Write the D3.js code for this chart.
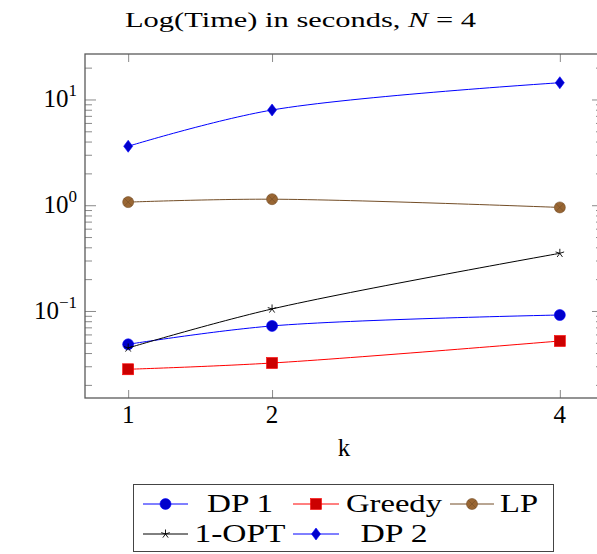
<!DOCTYPE html>
<html>
<head>
<meta charset="utf-8">
<script src="https://cdn.jsdelivr.net/npm/d3@7"></script>
<style>
  body { margin: 0; background: #fff; }
  text { font-family: "Liberation Serif", "DejaVu Serif", serif; fill: #000; }
</style>
</head>
<body>
<script>
// data
var kValues = [1, 2, 4];
var dp1    = [0.0484, 0.0722, 0.0916];
var greedy = [0.0281, 0.0322, 0.052];
var lp     = [1.07, 1.14, 0.953];
var oneOpt = [0.0447, 0.1045, 0.351];
var dp2    = [3.61, 7.95, 14.4];
var seriesNames = ["DP 1", "Greedy", "LP", "1-OPT", "DP 2"];
var yMajor = [0.1, 1, 10];
var yMajorExp = ["\u22121", "0", "1"];

var W = 597, H = 554;
var margin = {left: 85, right: 603, top: 54, bottom: 398};

var svg = d3.select("body").append("svg")
    .attr("width", W)
    .attr("height", H);

var x = d3.scaleLinear().domain([0.7, 4.3]).range([margin.left, margin.right]);
var y = d3.scaleLog().domain([Math.pow(10, -1.823), Math.pow(10, 1.43)]).range([margin.bottom, margin.top]);

// minor log ticks inside the domain
var yMinor = [];
[0.01, 0.1, 1, 10].forEach(function(d) {
  for (var m = 2; m <= 9; m++) {
    var v = d * m;
    if (v >= y.domain()[0] && v <= y.domain()[1]) yMinor.push(v);
  }
});

var tickColor = "#8a8a8a";

function styleAxis(g) {
  g.select(".domain").remove();
  g.selectAll(".tick line").attr("stroke", tickColor).attr("stroke-width", 1);
  g.selectAll(".tick text").remove();
}

// major / minor ticks, left and right
svg.append("g").attr("transform", "translate(" + margin.left + ",0)")
  .call(d3.axisLeft(y).tickValues(yMajor).tickSize(-11)).call(styleAxis);
svg.append("g").attr("transform", "translate(" + margin.left + ",0)")
  .call(d3.axisLeft(y).tickValues(yMinor).tickSize(-7)).call(styleAxis);
svg.append("g").attr("transform", "translate(" + margin.right + ",0)")
  .call(d3.axisRight(y).tickValues(yMajor).tickSize(-11)).call(styleAxis);
svg.append("g").attr("transform", "translate(" + margin.right + ",0)")
  .call(d3.axisRight(y).tickValues(yMinor).tickSize(-7)).call(styleAxis);

// x ticks bottom and top
svg.append("g").attr("transform", "translate(0," + margin.bottom + ")")
  .call(d3.axisBottom(x).tickValues(kValues).tickSize(-8)).call(styleAxis);
svg.append("g").attr("transform", "translate(0," + margin.top + ")")
  .call(d3.axisTop(x).tickValues(kValues).tickSize(-8)).call(styleAxis);

// frame
svg.append("rect")
  .attr("x", margin.left).attr("y", margin.top)
  .attr("width", margin.right - margin.left)
  .attr("height", margin.bottom - margin.top)
  .attr("fill", "none")
  .attr("stroke", "#5a5a5a")
  .attr("stroke-width", 1.3);

// y tick labels 10^n
yMajor.forEach(function(v, i) {
  var t = svg.append("text")
    .attr("x", 77)
    .attr("y", y(v) + 8)
    .attr("text-anchor", "end")
    .style("font-size", "25px");
  t.append("tspan").text("10");
  t.append("tspan").attr("dy", -11).style("font-size", "17px").text(yMajorExp[i]);
});

// x tick labels
svg.selectAll(".xlab")
  .data(kValues)
  .enter().append("text")
  .attr("class", "xlab")
  .attr("x", function(d) { return x(d); })
  .attr("y", 423)
  .attr("text-anchor", "middle")
  .style("font-size", "25px")
  .text(function(d) { return d; });

// axis label
svg.append("text")
  .attr("x", (margin.left + margin.right) / 2)
  .attr("y", 456)
  .attr("text-anchor", "middle")
  .style("font-size", "25px")
  .text("k");

// title
var title = svg.append("text")
  .attr("x", 125)
  .attr("y", 27)
  .attr("textLength", 351)
  .attr("lengthAdjust", "spacingAndGlyphs")
  .style("font-size", "22px");
title.append("tspan").text("Log(Time) in seconds, ");
title.append("tspan").style("font-style", "italic").text("N");
title.append("tspan").text(" = 4");

// series
var blue = "#0000ff", red = "#ff0000";
var series = [
  {name: seriesNames[0], values: dp1,    line: blue,      fill: "#0000cc", mark: "circle"},
  {name: seriesNames[1], values: greedy, line: red,       fill: "#cc0000", mark: "square"},
  {name: seriesNames[2], values: lp,     line: "#734d26", fill: "#996633", mark: "otimes"},
  {name: seriesNames[3], values: oneOpt, line: "#000000", fill: "#000000", mark: "star"},
  {name: seriesNames[4], values: dp2,    line: blue,      fill: "#0000cc", mark: "diamond"}
];

var line = d3.line()
  .x(function(d) { return x(d.k); })
  .y(function(d) { return y(d.v); })
  .curve(d3.curveCatmullRom.alpha(0.5));

function drawMark(g, s, cx, cy) {
  if (s.mark === "circle") {
    g.append("circle").attr("cx", cx).attr("cy", cy).attr("r", 5.5)
      .attr("fill", s.fill).attr("stroke", s.line).attr("stroke-width", 0.6);
  } else if (s.mark === "square") {
    g.append("rect").attr("x", cx - 5.5).attr("y", cy - 5.5).attr("width", 11).attr("height", 11)
      .attr("fill", s.fill).attr("stroke", s.line).attr("stroke-width", 0.6);
  } else if (s.mark === "otimes") {
    g.append("circle").attr("cx", cx).attr("cy", cy).attr("r", 5.5)
      .attr("fill", s.fill).attr("stroke", s.line).attr("stroke-width", 0.6);
    var r = 5.5 * Math.SQRT1_2;
    g.append("path")
      .attr("d", "M" + (cx - r) + "," + (cy - r) + "L" + (cx + r) + "," + (cy + r) +
                 "M" + (cx - r) + "," + (cy + r) + "L" + (cx + r) + "," + (cy - r))
      .attr("stroke", s.line).attr("stroke-width", 0.6);
  } else if (s.mark === "star") {
    var p = "";
    for (var i = 0; i < 5; i++) {
      var a = -Math.PI / 2 + i * 2 * Math.PI / 5;
      p += "M" + cx + "," + cy + "L" + (cx + 4.5 * Math.cos(a)) + "," + (cy + 4.5 * Math.sin(a));
    }
    g.append("path").attr("d", p).attr("stroke", "#000").attr("stroke-width", 0.9).attr("fill", "none");
  } else if (s.mark === "diamond") {
    g.append("path")
      .attr("d", "M" + cx + "," + (cy - 6) + "L" + (cx + 4.5) + "," + cy + "L" + cx + "," + (cy + 6) +
                 "L" + (cx - 4.5) + "," + cy + "Z")
      .attr("fill", s.fill).attr("stroke", s.line).attr("stroke-width", 0.6);
  }
}

var plot = svg.append("g");
series.forEach(function(s) {
  var pts = s.values.map(function(v, i) { return {k: kValues[i], v: v}; });
  plot.append("path")
    .datum(pts)
    .attr("fill", "none")
    .attr("stroke", s.line)
    .attr("stroke-width", 1)
    .attr("d", line);
  var mg = plot.append("g");
  pts.forEach(function(d) { drawMark(mg, s, x(d.k), y(d.v)); });
});

// legend
var legend = svg.append("g");
legend.append("rect")
  .attr("x", 133.5).attr("y", 484.5)
  .attr("width", 420).attr("height", 67)
  .attr("fill", "#fff")
  .attr("stroke", "#444")
  .attr("stroke-width", 1);

var colLine = [[143, 188], [293, 339], [450, 494]];
var colText = [240, 394, 519];
var rowY = [504, 534];
var textWidth = [66, 96, 38, 91, 67];
series.forEach(function(s, i) {
  var c = i % 3, r = Math.floor(i / 3);
  var ly = rowY[r];
  legend.append("line")
    .attr("x1", colLine[c][0]).attr("x2", colLine[c][1])
    .attr("y1", ly).attr("y2", ly)
    .attr("stroke", s.line).attr("stroke-width", 1);
  drawMark(legend, s, (colLine[c][0] + colLine[c][1]) / 2, ly);
  legend.append("text")
    .attr("x", colText[c] - textWidth[i] / 2)
    .attr("y", ly + 8)
    .attr("textLength", textWidth[i])
    .attr("lengthAdjust", "spacingAndGlyphs")
    .style("font-size", "25px")
    .text(s.name);
});
</script>
</body>
</html>
